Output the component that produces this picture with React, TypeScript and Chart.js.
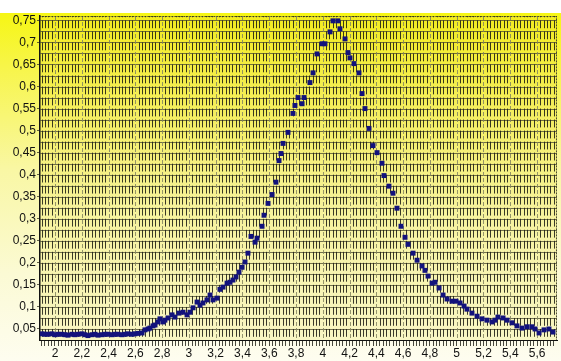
import React, { useEffect, useRef } from "react";
import { Chart, registerables } from "chart.js";

Chart.register(...registerables);

// Wavelength-like x values and intensity readings
const xValues: number[] = [
  1.903, 1.925, 1.948, 1.978, 2.0, 2.022, 2.052, 2.075, 2.097, 2.127,
  2.149, 2.172, 2.202, 2.224, 2.246, 2.276, 2.299, 2.321, 2.351, 2.373,
  2.396, 2.426, 2.448, 2.47, 2.5, 2.523, 2.545, 2.575, 2.597, 2.62,
  2.65, 2.672, 2.695, 2.709, 2.732, 2.747, 2.769, 2.784, 2.807, 2.821,
  2.844, 2.874, 2.896, 2.926, 2.956, 2.986, 3.008, 3.031, 3.061, 3.083,
  3.105, 3.135, 3.158, 3.18, 3.21, 3.232, 3.255, 3.285, 3.307, 3.329,
  3.352, 3.374, 3.397, 3.419, 3.441, 3.464, 3.494, 3.509, 3.546, 3.561,
  3.591, 3.621, 3.65, 3.673, 3.688, 3.703, 3.74, 3.777, 3.792, 3.815,
  3.845, 3.86, 3.904, 3.927, 3.957, 3.994, 4.016, 4.054, 4.076, 4.113,
  4.128, 4.166, 4.188, 4.203, 4.233, 4.27, 4.293, 4.315, 4.345, 4.375,
  4.405, 4.442, 4.457, 4.494, 4.524, 4.554, 4.584, 4.614, 4.636, 4.674,
  4.704, 4.741, 4.763, 4.786, 4.816, 4.838, 4.868, 4.898, 4.928, 4.965,
  4.995, 5.025, 5.055, 5.077, 5.114, 5.152, 5.189, 5.226, 5.264, 5.286,
  5.308, 5.346, 5.376, 5.413, 5.45, 5.488, 5.525, 5.562, 5.585, 5.615,
  5.652, 5.689, 5.719,
];

const yValues: number[] = [
  0.039, 0.038, 0.038, 0.039, 0.037, 0.038, 0.038, 0.037, 0.036, 0.038,
  0.037, 0.038, 0.039, 0.037, 0.035, 0.037, 0.038, 0.036, 0.037, 0.038,
  0.038, 0.037, 0.038, 0.038, 0.037, 0.038, 0.039, 0.038, 0.039, 0.04,
  0.041, 0.048, 0.05, 0.052, 0.057, 0.059, 0.066, 0.073, 0.066, 0.07,
  0.075, 0.082, 0.077, 0.086, 0.088, 0.082, 0.088, 0.098, 0.111, 0.104,
  0.109, 0.116, 0.127, 0.116, 0.12, 0.14, 0.145, 0.154, 0.156, 0.161,
  0.168, 0.179, 0.19, 0.202, 0.222, 0.26, 0.247, 0.256, 0.283, 0.308,
  0.335, 0.355, 0.383, 0.432, 0.448, 0.471, 0.496, 0.539, 0.557, 0.575,
  0.561, 0.575, 0.609, 0.631, 0.674, 0.697, 0.697, 0.724, 0.749, 0.749,
  0.731, 0.708, 0.677, 0.665, 0.652, 0.631, 0.584, 0.55, 0.505, 0.466,
  0.45, 0.426, 0.398, 0.374, 0.358, 0.324, 0.283, 0.258, 0.242, 0.222,
  0.206, 0.193, 0.183, 0.17, 0.154, 0.156, 0.143, 0.127, 0.118, 0.113,
  0.113, 0.109, 0.102, 0.095, 0.086, 0.079, 0.073, 0.07, 0.066, 0.07,
  0.077, 0.075, 0.07, 0.064, 0.057, 0.052, 0.055, 0.055, 0.05, 0.041,
  0.048, 0.05, 0.043,
];

const xMin = 1.888;
const xMax = 5.749;
const xStep = 0.025;
const xLabelEvery = 0.2;
const yMin = 0.025;
const yMax = 0.76;
const yStep = 0.025;
const yLabelEvery = 0.05;

const FONT = "'Liberation Sans Narrow', 'Arial Narrow', 'Liberation Sans', Arial, sans-serif";

const isMultiple = (v: number, m: number) => Math.abs(v / m - Math.round(v / m)) < 1e-6;
const fmt = (v: number) => String(Math.round(v * 100) / 100).replace(".", ",");

const backgroundPlugin = {
  id: "bg",
  beforeDraw(chart: any) {
    const { ctx, width, height, chartArea } = chart;
    ctx.save();
    ctx.fillStyle = "#ffffff";
    ctx.fillRect(0, 0, width, height);
    const g = ctx.createLinearGradient(0, 13, 0, height);
    g.addColorStop(0, "#f6f614");
    g.addColorStop(0.15, "#f7f548");
    g.addColorStop(0.45, "#f9f7a4");
    g.addColorStop(0.75, "#fbfad4");
    g.addColorStop(1, "#fefdf0");
    ctx.fillStyle = g;
    ctx.fillRect(0, 13, width, height - 13);
    const g2 = ctx.createLinearGradient(0, chartArea.top, 0, chartArea.bottom);
    g2.addColorStop(0, "#f2ec20");
    g2.addColorStop(0.3, "#f4ee60");
    g2.addColorStop(0.6, "#f6f29c");
    g2.addColorStop(1, "#f8f6c4");
    ctx.fillStyle = g2;
    ctx.fillRect(chartArea.left, chartArea.top, chartArea.right - chartArea.left, chartArea.bottom - chartArea.top);
    ctx.restore();
  },
  beforeDatasetsDraw(chart: any) {
    const { ctx, chartArea, scales } = chart;
    const xs = scales.x;
    const ys = scales.y;
    ctx.save();
    ctx.beginPath();
    ctx.rect(chartArea.left, chartArea.top, chartArea.right - chartArea.left, chartArea.bottom - chartArea.top);
    ctx.clip();
    // horizontal grid lines
    ctx.lineWidth = 1;
    ctx.strokeStyle = "rgba(80,80,50,0.8)";
    for (let k = Math.ceil(yMin / yStep) + 1; k * yStep <= yMax; k++) {
      const y = Math.round(ys.getPixelForValue(k * yStep)) + 0.5;
      ctx.beginPath();
      ctx.moveTo(chartArea.left, y);
      ctx.lineTo(chartArea.right, y);
      ctx.stroke();
    }
    // vertical grid lines
    const period = Math.abs(ys.getPixelForValue(0) - ys.getPixelForValue(yStep));
    const firstH = ys.getPixelForValue(Math.floor(yMax / yStep) * yStep) - chartArea.top;
    for (let k = Math.ceil(xMin / xStep); k * xStep <= xMax; k++) {
      const v = k * xStep;
      const x = Math.round(xs.getPixelForValue(v)) + 0.5;
      if (x <= chartArea.left + 1) continue;
      ctx.beginPath();
      if (isMultiple(v, xLabelEvery)) {
        ctx.strokeStyle = "rgba(130,130,95,0.85)";
        ctx.setLineDash([4, 2]);
        ctx.lineDashOffset = 0;
      } else {
        ctx.strokeStyle = "rgba(30,30,20,0.88)";
        ctx.setLineDash([period - 3.2, 3.2]);
        ctx.lineDashOffset = period - firstH;
      }
      ctx.moveTo(x, chartArea.top);
      ctx.lineTo(x, chartArea.bottom);
      ctx.stroke();
    }
    ctx.setLineDash([2, 1]);
    ctx.strokeStyle = "rgba(60,60,40,0.9)";
    ctx.beginPath();
    ctx.moveTo(chartArea.left, chartArea.top + 0.5);
    ctx.lineTo(chartArea.right, chartArea.top + 0.5);
    ctx.moveTo(chartArea.right - 0.5, chartArea.top);
    ctx.lineTo(chartArea.right - 0.5, chartArea.bottom);
    ctx.stroke();
    ctx.restore();
  },
};

export default function App() {
  const ref = useRef<HTMLCanvasElement>(null);
  useEffect(() => {
    if (!ref.current) return;
    const points = xValues.map((x, i) => ({ x, y: yValues[i] }));
    const chart = new Chart(ref.current, {
      type: "scatter",
      data: {
        datasets: [
          {
            data: points,
            showLine: false,
            pointStyle: "rect",
            pointRadius: 3.5,
            pointBackgroundColor: "#12127c",
            pointBorderColor: "#12127c",
            pointBorderWidth: 0,
          },
        ],
      },
      options: {
        animation: false,
        responsive: false,
        events: [],
        layout: { padding: { top: 16, right: 4, left: 0, bottom: 0 } },
        plugins: { legend: { display: false }, tooltip: { enabled: false }, title: { display: false } },
        scales: {
          x: {
            type: "linear",
            min: xMin,
            max: xMax,
            afterFit(scale: any) {
              scale.height = 21;
            },
            border: { display: true, color: "#111", width: 1 },
            grid: {
              drawOnChartArea: false,
              drawTicks: true,
              tickLength: 6,
              tickColor: "rgba(40,40,30,0.85)",
              color: "rgba(40,40,30,0.85)",
            },
            ticks: {
              stepSize: xStep,
              includeBounds: false,
              autoSkip: false,
              maxRotation: 0,
              minRotation: 0,
              padding: 0,
              color: "#111",
              font: { family: FONT, size: 12 },
              callback: (v: any) => {
                const n = Number(v);
                return isMultiple(n, xLabelEvery) ? fmt(n) : "";
              },
            },
          },
          y: {
            type: "linear",
            min: yMin,
            max: yMax,
            afterFit(scale: any) {
              scale.width = 40;
            },
            border: { display: true, color: "#111", width: 1.5 },
            grid: {
              drawOnChartArea: false,
              drawTicks: true,
              tickLength: 3,
              tickColor: (c: any) => {
                const v = c.tick ? c.tick.value : 0;
                return isMultiple(v, yLabelEvery) ? "rgba(60,60,40,0.8)" : "rgba(0,0,0,0)";
              },
            },
            ticks: {
              stepSize: yStep,
              includeBounds: false,
              autoSkip: false,
              padding: 1,
              color: "#111",
              font: { family: FONT, size: 12 },
              callback: (v: any) => {
                const n = Number(v);
                return isMultiple(n, yLabelEvery) ? fmt(n) : "";
              },
            },
          },
        },
      },
      plugins: [backgroundPlugin],
    });
    return () => chart.destroy();
  }, []);
  return (
    <div style={{ position: "absolute", left: 0, top: 0, width: 561, height: 361 }}>
      <canvas ref={ref} width={561} height={361} style={{ display: "block" }} />
    </div>
  );
}
